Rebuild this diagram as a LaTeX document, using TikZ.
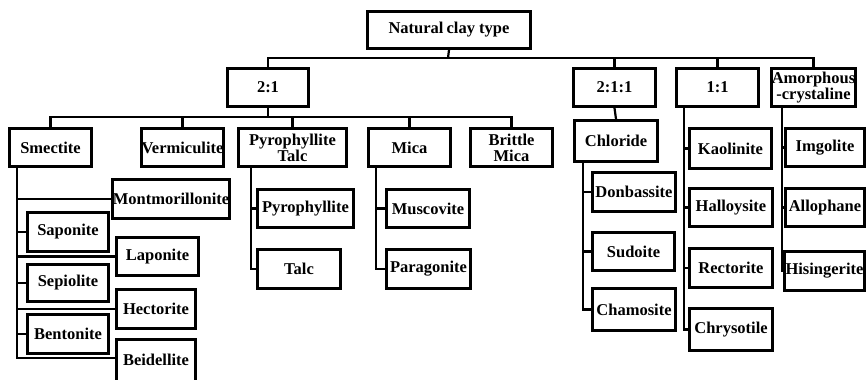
\documentclass[tikz,border=0pt]{standalone}
\usepackage{fontspec}
\setmainfont{Liberation Serif}
\usetikzlibrary{shadows}
\tikzset{
  box/.style={draw=black, line width=3.2pt, fill=white, rectangle, inner sep=0pt,
    align=center, font=\bfseries\fontsize{16.5}{16}\selectfont,
    drop shadow={shadow xshift=0.8pt, shadow yshift=-0.8pt, opacity=0.35, fill=black}},
  conn/.style={draw=black, line width=2.2pt}
}
% \bx{name}{x1}{y1}{x2}{y2}{text}
\newcommand{\bx}[6]{\node[box, minimum width={#4-#2-3.2}, minimum height={#5-#3-3.2}] (#1) at ({(#2+#4)/2},{(#3+#5)/2}) {#6};}
\begin{document}
\begin{tikzpicture}[x=1pt,y=-1pt]
\useasboundingbox (0,0) rectangle (868,380);
\fill[white] (0,0) rectangle (868,380);
\clip (0,0) rectangle (868,380);
\coordinate (bus1) at (448,58);
\coordinate (bus2) at (268,117);
\coordinate (sv) at (17,168);
\coordinate (bk) at (115,358);
\coordinate (pv) at (251,168);
\coordinate (mv) at (376,168);
\coordinate (cv) at (583,163);
\coordinate (kv) at (684,108);
\coordinate (av) at (782,108);
% boxes
\bx{nat}{366}{10}{532}{50}{Natural\hspace{-1pt} clay type}
\bx{t21}{226}{67}{310}{108}{2:1}
\bx{t211}{572}{67}{657}{108}{2:1:1}
\bx{t11}{675}{67}{760}{108}{1:1}
\bx{amo}{771}{67}{856}{108}{Amorphous\\-crystaline}
\bx{smec}{8}{127}{93}{168}{Smectite}
\bx{verm}{142}{127}{223}{168}{Vermiculite}
\bx{pyt}{237}{127}{348}{168}{Pyrophyllite\\Talc}
\bx{mica}{367}{127}{452}{168}{Mica}
\bx{brit}{469}{127}{554}{168}{Brittle\\Mica}
\bx{chl}{573}{119}{659}{163}{Chloride}
\bx{kao}{688}{127}{773}{170}{Kaolinite}
\bx{img}{784}{127}{866}{168}{Imgolite}
\bx{mont}{113}{178}{229}{220}{Montmorillonite}
\bx{sapo}{26}{211}{110}{253}{Saponite}
\bx{lapo}{115}{236}{200}{277}{Laponite}
\bx{sepi}{26}{263}{110}{303}{Sepiolite}
\bx{hect}{115}{288}{197}{330}{Hectorite}
\bx{bent}{26}{313}{110}{355}{Bentonite}
\bx{beid}{115}{338}{197}{386}{\raisebox{4pt}{Beidellite}}
\bx{pyro}{256}{188}{355}{229}{Pyrophyllite}
\bx{talc}{256}{248}{342}{290}{Talc}
\bx{musc}{385}{188}{471}{229}{Muscovite}
\bx{para}{385}{248}{472}{290}{Paragonite}
\bx{donb}{591}{171}{677}{213}{Donbassite}
\bx{sudo}{591}{231}{676}{272}{Sudoite}
\bx{cham}{591}{287}{677}{332}{Chamosite}
\bx{hall}{688}{187}{774}{228}{Halloysite}
\bx{rect}{688}{247}{774}{289}{Rectorite}
\bx{chry}{688}{307}{774}{352}{Chrysotile}
\bx{allo}{784}{187}{866}{228}{Allophane}
\bx{hisi}{783}{250}{866}{292}{Hisingerite}
% level 1
\draw[conn] (nat.south) -- (bus1);
\draw[conn] (t21.north) |- (bus1) -| (amo.north);
\draw[conn] (t211.north) -- (t211.north |- bus1);
\draw[conn] (t11.north) -- (t11.north |- bus1);
% level 2 (2:1)
\draw[conn] (t21.south) -- (bus2);
\draw[conn] (smec.north) |- (bus2) -| (brit.north);
\draw[conn] (verm.north) -- (verm.north |- bus2);
\draw[conn] (pyt.north) -- (pyt.north |- bus2);
\draw[conn] (mica.north) -- (mica.north |- bus2);
\draw[conn] (t211.south) -- (chl.north);
% smectite
\draw[conn] (sv) |- (bk);
\draw[conn] (sv |- mont.west) -- (mont.west);
\draw[conn] (sv |- sapo.west) -- (sapo.west);
\draw[conn] (sv |- lapo.west) -- (lapo.west);
\draw[conn] (sv |- sepi.west) -- (sepi.west);
\draw[conn] (sv |- hect.west) -- (hect.west);
\draw[conn] (sv |- bent.west) -- (bent.west);
% pyrophyllite talc
\draw[conn] (pv) |- (talc.west);
\draw[conn] (pv |- pyro.west) -- (pyro.west);
% mica
\draw[conn] (mv) |- (para.west);
\draw[conn] (mv |- musc.west) -- (musc.west);
% chloride
\draw[conn] (cv) |- (cham.west);
\draw[conn] (cv |- donb.west) -- (donb.west);
\draw[conn] (cv |- sudo.west) -- (sudo.west);
% 1:1
\draw[conn] (kv) |- (chry.west);
\draw[conn] (kv |- kao.west) -- (kao.west);
\draw[conn] (kv |- hall.west) -- (hall.west);
\draw[conn] (kv |- rect.west) -- (rect.west);
% amorphous
\draw[conn] (av) |- (hisi.west);
\draw[conn] (av |- img.west) -- (img.west);
\draw[conn] (av |- allo.west) -- (allo.west);
\end{tikzpicture}
\end{document}
